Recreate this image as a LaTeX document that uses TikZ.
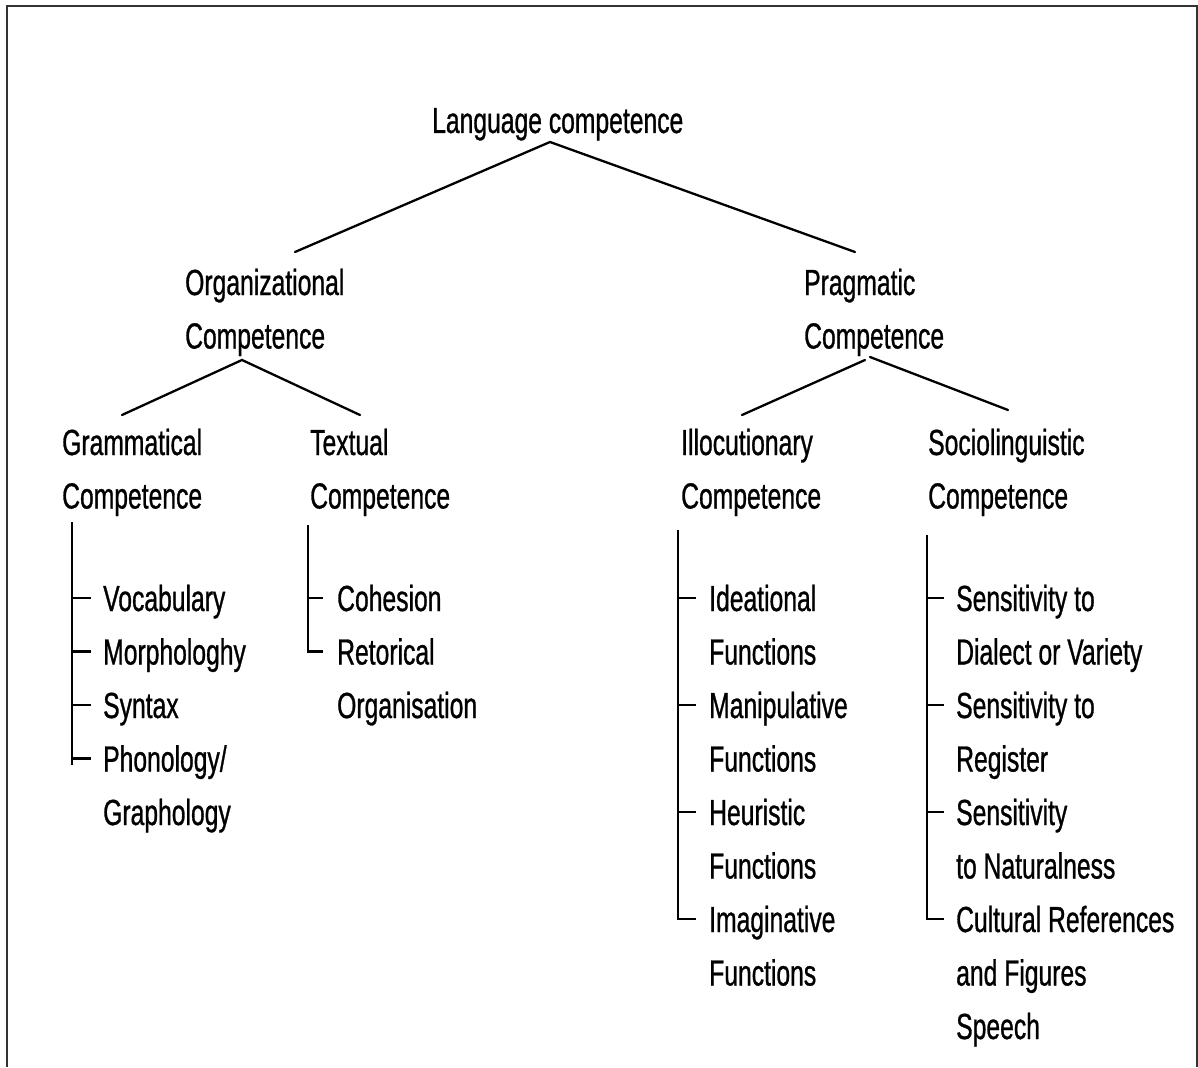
\documentclass[tikz,border=0pt]{standalone}
\usepackage{fontspec}
\setmainfont{Liberation Sans}[FakeStretch=0.68,FakeBold=0.8]
\usetikzlibrary{calc}
\begin{document}
\begin{tikzpicture}[x=1pt,y=-1pt,
  lbl/.style={anchor=base west,inner sep=0pt,align=left,
              font=\fontsize{36.3}{53.5}\selectfont},
  branch/.style={line width=2.3pt,line cap=round},
  twig/.style={line width=2.1pt}]
\useasboundingbox (0,0) rectangle (1198,1067);
% frame
\draw[line width=2pt,black!80] (7,1067) -- (7,6) -- (1197,6) -- (1197,1067);

% top levels (multi-line nodes sit on the baseline of their last line)
\node[lbl] (lc)    at (432,133)   {Language competence};
\node[lbl] (org)   at (185,348.5) {Organizational\\Competence};
\node[lbl] (prag)  at (804,348.5) {Pragmatic\\Competence};
\node[lbl] (gram)  at (62,508.5)  {Grammatical\\Competence};
\node[lbl] (textc) at (310,508.5) {Textual\\Competence};
\node[lbl] (illo)  at (681,508.5) {Illocutionary\\Competence};
\node[lbl] (socio) at (928,508.5) {Sociolinguistic\\Competence};

% branch points
\coordinate (lc-b)   at (550,142);
\coordinate (org-t)  at (295,252);
\coordinate (prag-t) at (855,252);
\coordinate (org-b)  at (242,360);
\coordinate (gram-t) at (122,415);
\coordinate (text-t) at (360,415);
\coordinate (prag-bl) at (865,360);
\coordinate (prag-br) at (870,357);
\coordinate (illo-t) at (742,415);
\coordinate (soc-t)  at (1008,410);

\draw[branch] (org-t) -- (lc-b) -- (prag-t);
\draw[branch] (gram-t) -- (org-b) -- (text-t);
\draw[branch] (illo-t) -- (prag-bl);
\draw[branch] (prag-br) -- (soc-t);

% grammatical competence
\node[lbl] (voc) at (103,611)   {Vocabulary};
\node[lbl] (mor) at (103,664.5) {Morphologhy};
\node[lbl] (syn) at (103,718)   {Syntax};
\node[lbl] (pho) at (103,825)   {Phonology/\\Graphology};
\coordinate (gbar-t) at (72,522);
\coordinate (gbar-b) at (72,765);
\draw[twig] (gbar-t) -- (gbar-b);
\foreach \n/\d in {voc/13,mor/13,syn/13,pho/66.5}
  \draw[twig] ($(\n.base west)+(-31,-\d)$) -- ++(19,0);

% textual competence
\node[lbl] (coh) at (337,611) {Cohesion};
\node[lbl] (ret) at (337,718) {Retorical\\Organisation};
\coordinate (tbar-t) at (308,525);
\draw[twig] ($(coh.base west)+(-29,-13)$) -- ++(15,0);
\draw[twig] (tbar-t) |- ($(ret.base west)+(-14,-66.5)$);

% illocutionary competence
\node[lbl] (ide) at (709,664.5) {Ideational\\Functions};
\node[lbl] (man) at (709,771.5) {Manipulative\\Functions};
\node[lbl] (heu) at (709,878.5) {Heuristic\\Functions};
\node[lbl] (ima) at (709,985.5) {Imaginative\\Functions};
\coordinate (ibar-t) at (678,530);
\foreach \n in {ide,man,heu}
  \draw[twig] ($(\n.base west)+(-31,-66.5)$) -- ++(18,0);
\draw[twig] (ibar-t) |- ($(ima.base west)+(-13,-66.5)$);

% sociolinguistic competence
\node[lbl] (sd) at (956,664.5) {Sensitivity to\\Dialect or Variety};
\node[lbl] (sr) at (956,771.5) {Sensitivity to\\Register};
\node[lbl] (sn) at (956,878.5) {Sensitivity\\to Naturalness};
\node[lbl] (cr) at (956,1039)  {Cultural References\\and Figures\\Speech};
\coordinate (sbar-t) at (927,535);
\foreach \n in {sd,sr,sn}
  \draw[twig] ($(\n.base west)+(-29,-66.5)$) -- ++(17,0);
\draw[twig] (sbar-t) |- ($(cr.base west)+(-12,-120)$);
\end{tikzpicture}
\end{document}
